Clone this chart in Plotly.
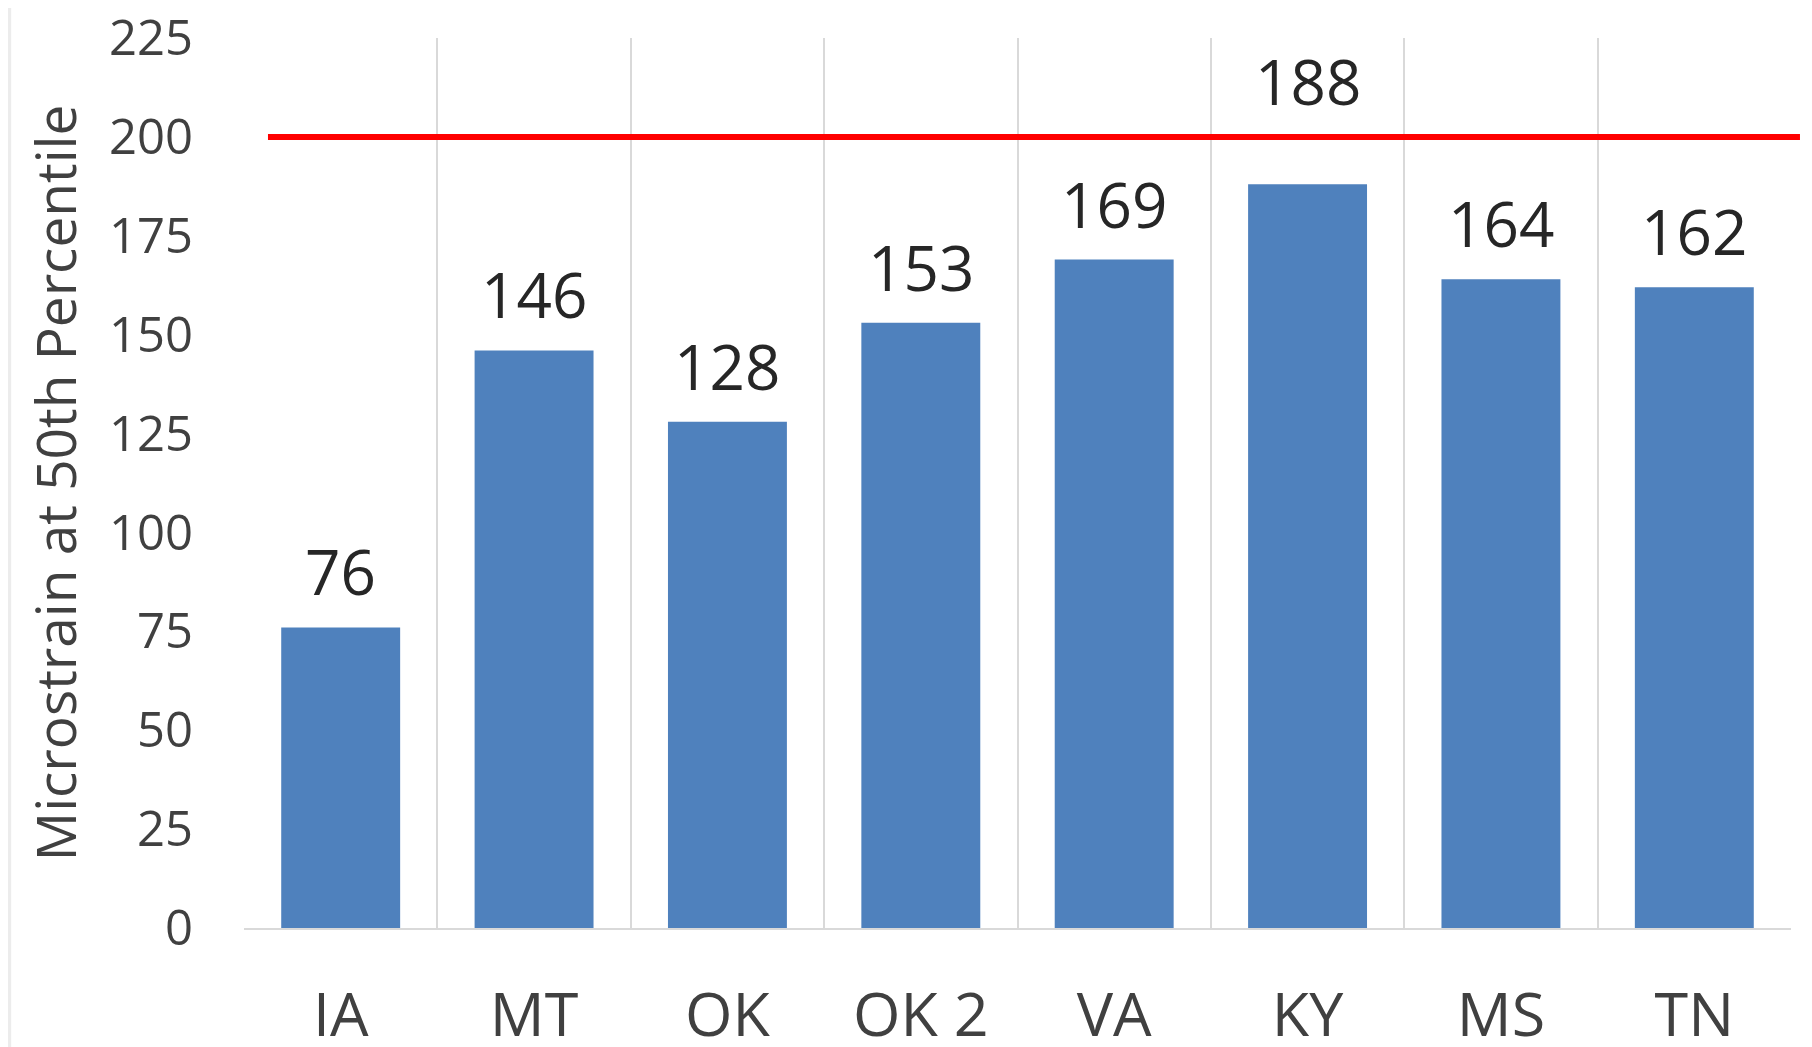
"""
plot.py -- Microstrain at 50th percentile by section, with 200 threshold line.
"""

import plotly.graph_objects as go

# ------------------------------------------------------------------
# Data
# ------------------------------------------------------------------

sections = ["IA", "MT", "OK", "OK 2", "VA", "KY", "MS", "TN"]
microstrain = [76, 146, 128, 153, 169, 188, 164, 162]
threshold = 200
y_ticks = [0, 25, 50, 75, 100, 125, 150, 175, 200, 225]

FONT = "Open Sans"
BAR_COLOR = "#4F81BD"
TEXT_COLOR = "#404040"
GRID_COLOR = "#D9D9D9"

# ------------------------------------------------------------------
# Figure
# ------------------------------------------------------------------

fig = go.Figure()

fig.add_trace(
    go.Bar(
        x=sections,
        y=microstrain,
        marker_color=BAR_COLOR,
        marker_line_width=0,
        hoverinfo="x+y",
    )
)

# value labels above each bar; a label that would sit on the red line
# is lifted above it (as in the original)
for cat, val in zip(sections, microstrain):
    y = threshold if val + 12 > threshold - 8 else val
    fig.add_annotation(
        x=cat, y=y,
        xref="x", yref="y",
        text=str(val),
        showarrow=False,
        yanchor="bottom",
        yshift=12,
        font=dict(family=FONT, size=62, color="#262626"),
    )

# threshold line
fig.add_shape(
    type="line",
    xref="paper", yref="y",
    x0=0.0155, x1=1.0058,
    y0=threshold, y1=threshold,
    line=dict(color="#FF0000", width=6),
    layer="above",
)

# faint left edge of the original picture frame
fig.add_shape(
    type="rect", xref="paper", yref="paper",
    x0=-0.2, x1=-0.1505, y0=-0.2, y1=1.1,
    fillcolor="#ECECEC", line_width=0, layer="below",
)

# the page body adds an 8px offset, so the margins are trimmed to match
fig.update_layout(
    width=1812,
    height=1047,
    template="plotly_white",
    plot_bgcolor="white",
    paper_bgcolor="white",
    bargap=0.385,
    showlegend=False,
    margin=dict(l=236, r=29, t=30, b=127),
    font=dict(family=FONT, color=TEXT_COLOR),
)

fig.update_xaxes(
    type="category",
    tickson="boundaries",
    showgrid=True,
    gridcolor=GRID_COLOR,
    gridwidth=2,
    showline=True,
    linecolor=GRID_COLOR,
    linewidth=2,
    ticks="",
    ticklabelstandoff=33,
    tickfont=dict(family=FONT, size=61, color=TEXT_COLOR),
    zeroline=False,
    automargin=False,
)

fig.update_yaxes(
    range=[0, 225],
    tickvals=y_ticks,
    showgrid=False,
    zeroline=False,
    showline=False,
    ticks="",
    ticklabelstandoff=50,
    ticklabeloverflow="allow",
    tickfont=dict(family=FONT, size=49, color=TEXT_COLOR),
    title=dict(
        text="Microstrain at 50th Percentile",
        font=dict(family=FONT, size=55, color=TEXT_COLOR),
        standoff=14,
    ),
    automargin=False,
)

fig.write_html("out.html")
